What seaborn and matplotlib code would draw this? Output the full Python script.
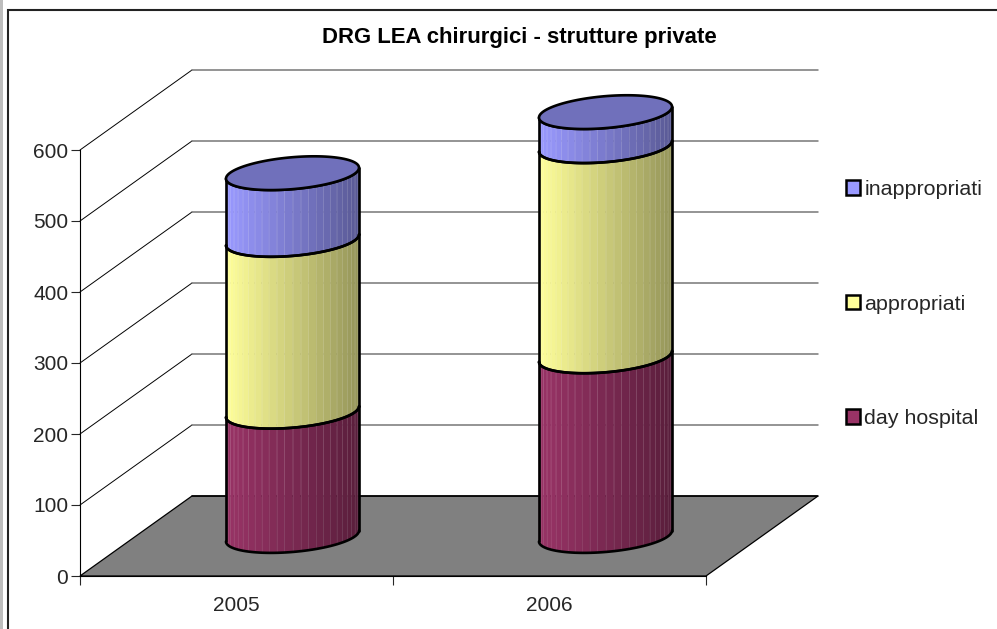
import numpy as np
import matplotlib
matplotlib.use("Agg")
import matplotlib.pyplot as plt
from matplotlib.patches import Patch, Polygon, Rectangle
import seaborn as sns

# valori
years = ["2005", "2006"]
series_names = ["day hospital", "appropriati", "inappropriati"]
day_hospital = [175, 253]
appropriati = [242, 296]
inappropriati = [94, 48]
series_values = [day_hospital, appropriati, inappropriati]
series_colors = ["#993366", "#FFFF99", "#9999FF"]
y_ticks = [0, 100, 200, 300, 400, 500, 600]

W, H = 997, 629
# profondita' della finta prospettiva, in unita' dei dati
DEPTH_X = 112 / 313
DEPTH_Y = 80 / 0.71
ELL_B = 22.5   # semiasse dell'ellisse in unita' y
ELL_S = 7.7    # inclinazione dell'ellisse
N_STRIPS = 26
EDGE = 1.9

sns.set_style("white")
plt.rcParams["font.family"] = ["Liberation Sans", "DejaVu Sans"]

fig = plt.figure(figsize=(W / 100, H / 100), dpi=100)
ax = fig.add_axes([80 / W, 1 - 576 / H, 626 / W, 426 / H])
ax.patch.set_alpha(0)

# cornice esterna
fig.add_artist(Rectangle((0, 0), 2.5 / W, 1, transform=fig.transFigure, fc="#bdbdbd", ec="none"))
fig.add_artist(Rectangle((7.5 / W, -0.1), 1.2, 1.1 - 10 / H, transform=fig.transFigure,
                         fc="none", ec="#222222", lw=1.5))


def shade(color, f):
    return tuple(c * f for c in matplotlib.colors.to_rgb(color))


def arc(cx, half, yc, t):
    return cx + half * np.cos(t), yc + ELL_S * np.cos(t) + ELL_B * np.sin(t)


# pavimento e griglia
x0, x1 = -0.5, 1.5
ax.add_patch(Polygon([(x0, 0), (x1, 0), (x1 + DEPTH_X, DEPTH_Y), (x0 + DEPTH_X, DEPTH_Y)],
                     fc="#808080", ec="black", lw=0.9, clip_on=False, zorder=1))
for v in y_ticks:
    if v > 0:
        ax.plot([x0, x0 + DEPTH_X], [v, v + DEPTH_Y], color="black", lw=0.7, clip_on=False, zorder=1)
    ax.plot([x0 + DEPTH_X, x1 + DEPTH_X], [v + DEPTH_Y, v + DEPTH_Y], color="#777777" if v else "black",
            lw=1.1, clip_on=False, zorder=1)

# le barre vengono da seaborn, poi ci si disegna sopra il cilindro
base = np.zeros(len(years))
for name, vals, col in zip(series_names, series_values, series_colors):
    sns.barplot(x=years, y=vals, bottom=base, width=0.425, color=col, errorbar=None, ax=ax)
    bars = ax.containers[-1]
    is_top = name == series_names[-1]
    for bar in bars:
        bar.set_visible(False)
        half = bar.get_width() / 2
        cx = bar.get_x() + half + DEPTH_X / 2
        y_lo = bar.get_y() + DEPTH_Y / 2
        y_hi = y_lo + bar.get_height()
        ts = np.linspace(np.pi, 2 * np.pi, N_STRIPS + 1)
        for k in range(N_STRIPS):
            tt = np.linspace(ts[k], ts[k + 1], 4)
            xa, ya = arc(cx, half, y_lo, tt)
            xb, yb = arc(cx, half, y_hi, tt)
            pos = (np.cos(tt[1]) + 1) / 2
            c = shade(col, 1.0 - 0.42 * pos)
            ax.fill(np.r_[xa, xb[::-1]], np.r_[ya, yb[::-1]], color=c, lw=0.3, clip_on=False, zorder=3)
            ax.plot([xb[0], xa[0]], [yb[0], ya[0]], color="white", alpha=0.09, lw=0.7, clip_on=False, zorder=3)
        tt = np.linspace(np.pi, 2 * np.pi, 80)
        xa, ya = arc(cx, half, y_lo, tt)
        xb, yb = arc(cx, half, y_hi, tt)
        ax.plot(xa, ya, color="black", lw=EDGE, clip_on=False, zorder=5)
        ax.plot(xb, yb, color="black", lw=EDGE, clip_on=False, zorder=5)
        ax.plot([xa[0], xb[0]], [ya[0], yb[0]], color="black", lw=EDGE, clip_on=False, zorder=5)
        ax.plot([xa[-1], xb[-1]], [ya[-1], yb[-1]], color="black", lw=EDGE, clip_on=False, zorder=5)
        if is_top:
            tt = np.linspace(0, 2 * np.pi, 120)
            xt, yt = arc(cx, half, y_hi, tt)
            ax.fill(xt, yt, fc=shade(col, 0.735), ec="black", lw=EDGE, clip_on=False, zorder=6)
    base = base + np.array(vals)

# assi
ax.set_xlim(x0, x1)
ax.set_ylim(0, 600)
ax.set_xlabel("")
ax.set_ylabel("")
ax.set_yticks(y_ticks)
ax.set_xticks([-0.5, 0.5, 1.5])
ax.set_xticklabels([])
ax.set_xticks([0, 1], minor=True)
ax.set_xticklabels(years, minor=True)
for s in ["top", "right"]:
    ax.spines[s].set_visible(False)
for s in ["left", "bottom"]:
    ax.spines[s].set_visible(True)
    ax.spines[s].set_linewidth(0.8)
    ax.spines[s].set_color("black")
    ax.spines[s].set_zorder(2)
ax.tick_params(axis="y", which="major", left=True, direction="out", length=6.5, width=0.8, labelsize=15, pad=2)
ax.tick_params(axis="x", which="major", bottom=True, direction="out", length=6.5, width=0.8)
ax.tick_params(axis="x", which="minor", bottom=False, length=0, labelsize=15, pad=14.5)

fig.text(519 / W, 1 - 38 / H, "DRG LEA chirurgici - strutture private", ha="center", va="center",
         fontsize=15.9, fontweight="bold", color="black")

handles = [Patch(fc=c, ec="black", lw=1.8, label=n) for n, c in zip(series_names, series_colors)][::-1]
fig.legend(handles=handles, loc="center left", bbox_to_anchor=(846 / W, 1 - 304 / H), frameon=False,
           fontsize=15.4, handlelength=0.66, handleheight=0.66, handletextpad=0.2,
           labelspacing=4.47, borderpad=0, borderaxespad=0)

fig.savefig("out.png", dpi=100)
